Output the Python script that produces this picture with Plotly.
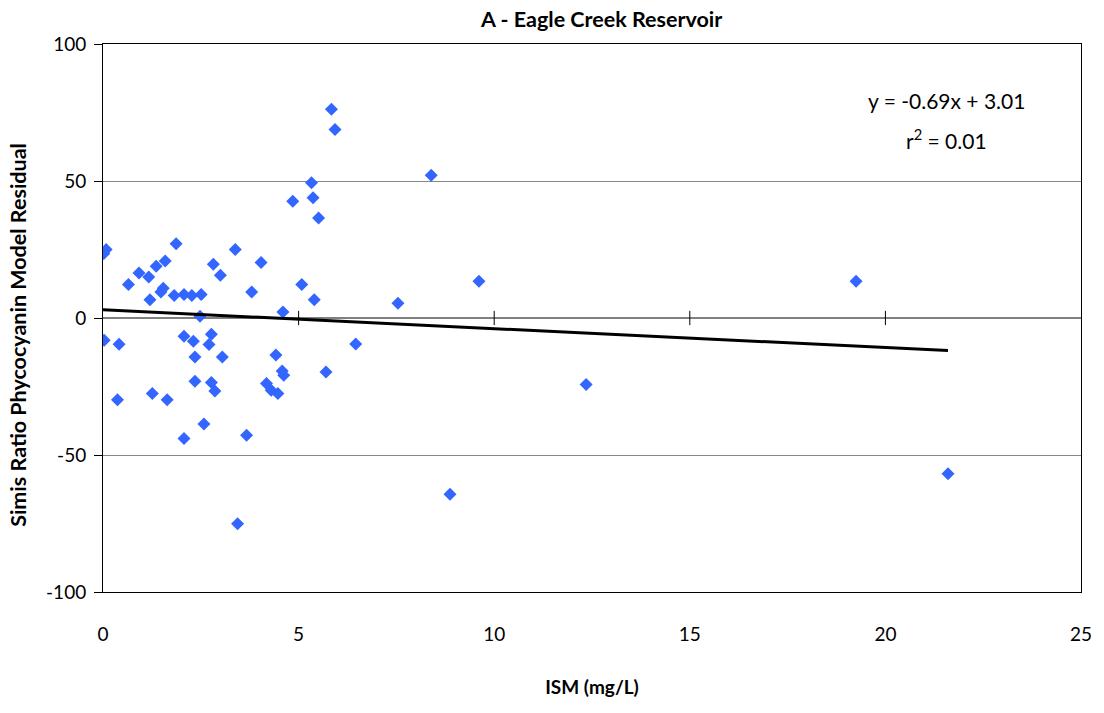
import plotly.graph_objects as go

# ISM (mg/L) and model residual for each sample
ism = [0.02, 0.08, 1.87, 0.92, 1.17, 1.36, 1.59, 0.65, 1.54, 1.48,
       1.20, 1.82, 2.07, 2.27, 2.51, 2.48, 2.82, 3.00, 3.38, 4.04,
       3.80, 4.60, 0.03, 0.41, 2.07, 2.31, 2.77, 2.71, 2.35, 3.05,
       4.42, 0.37, 1.26, 1.64, 2.35, 2.77, 2.86, 4.18, 4.30, 4.47,
       4.58, 4.62, 2.58, 2.07, 3.67, 3.44, 5.84, 5.93, 5.33, 4.85,
       5.37, 5.51, 5.08, 5.40, 6.46, 5.70, 8.39, 9.61, 7.54, 12.35,
       8.87, 19.25, 21.60]
residual = [23.5, 25.0, 27.1, 16.4, 15.0, 18.9, 20.8, 12.2, 10.9, 9.5,
            6.7, 8.2, 8.6, 8.2, 8.6, 0.6, 19.6, 15.6, 25.0, 20.3,
            9.5, 2.2, -8.1, -9.6, -6.7, -8.5, -5.9, -9.7, -14.2, -14.2,
            -13.5, -29.8, -27.6, -29.8, -23.1, -23.5, -26.6, -23.9, -26.4, -27.6,
            -19.3, -20.9, -38.7, -44.0, -42.8, -75.1, 76.2, 68.8, 49.4, 42.6,
            43.9, 36.5, 12.2, 6.7, -9.5, -19.7, 52.1, 13.4, 5.4, -24.3,
            -64.3, 13.4, -56.8]

# Linear fit as stated on the chart
slope = -0.69
intercept = 3.01
r_squared = 0.01

x_ticks = [0, 5, 10, 15, 20, 25]
y_ticks = [-100, -50, 0, 50, 100]
y_tick_text = ["-100", "-50", "0", "50", "100"]

FONT = "Lato"

x_fit = [0, max(ism)]
y_fit = [slope * v + intercept for v in x_fit]

fig = go.Figure()
fig.add_trace(go.Scatter(
    x=ism, y=residual, mode="markers",
    marker=dict(symbol="diamond", size=10, color="#3366FF",
                line=dict(width=0)),
    showlegend=False,
))
fig.add_trace(go.Scatter(
    x=x_fit, y=y_fit, mode="lines",
    line=dict(color="black", width=3),
    showlegend=False,
))

# Crossing tick marks on the zero line
for t in x_ticks[1:-1]:
    fig.add_shape(type="line", x0=t, x1=t, y0=-2.6, y1=2.6,
                  xref="x", yref="y", line=dict(color="black", width=1))

# Fit equation and r-squared
fig.add_annotation(
    x=0.862, y=0.896, xref="paper", yref="paper",
    text=f"y = {slope}x + {intercept:.2f}", showarrow=False,
    font=dict(family=FONT, size=21, color="black"),
    xanchor="center", yanchor="middle",
)
fig.add_annotation(
    x=0.862, y=0.826, xref="paper", yref="paper",
    text=f"r<sup>2</sup> = {r_squared:.2f}", showarrow=False,
    font=dict(family=FONT, size=21, color="black"),
    xanchor="center", yanchor="middle",
)

# Y-axis title
fig.add_annotation(
    x=-0.0865, y=0.47, xref="paper", yref="paper",
    text="<b>Simis Ratio Phycocyanin Model Residual</b>", showarrow=False,
    textangle=-90, font=dict(family=FONT, size=21.5, color="black"),
    xanchor="center", yanchor="middle",
)

fig.update_layout(
    width=1104, height=713,
    margin=dict(l=103, r=19, t=44, b=121),
    paper_bgcolor="white", plot_bgcolor="white",
    title=dict(text="<b>A - Eagle Creek Reservoir</b>", x=0.545, xanchor="center",
               y=0.973, yanchor="middle",
               font=dict(family=FONT, size=21.5, color="black")),
    font=dict(family=FONT, color="black"),
    xaxis=dict(
        range=[0, 25], tickvals=x_ticks, ticks="", showgrid=False,
        zeroline=False, showline=True, linecolor="black", linewidth=1,
        mirror=True, tickfont=dict(size=19), ticklabelstandoff=25,
        title=dict(text="<b>ISM (mg/L)</b>", font=dict(size=19), standoff=36),
    ),
    yaxis=dict(
        range=[-100, 100], tickvals=y_ticks, ticktext=y_tick_text,
        ticks="outside", ticklen=8,
        tickcolor="black", showgrid=True, gridcolor="#868686", gridwidth=1,
        zeroline=True, zerolinecolor="#808080", zerolinewidth=1.5,
        showline=True, linecolor="black", linewidth=1, mirror=True,
        tickfont=dict(size=19), ticklabelstandoff=4,
    ),
)

fig.write_html("out.html")
